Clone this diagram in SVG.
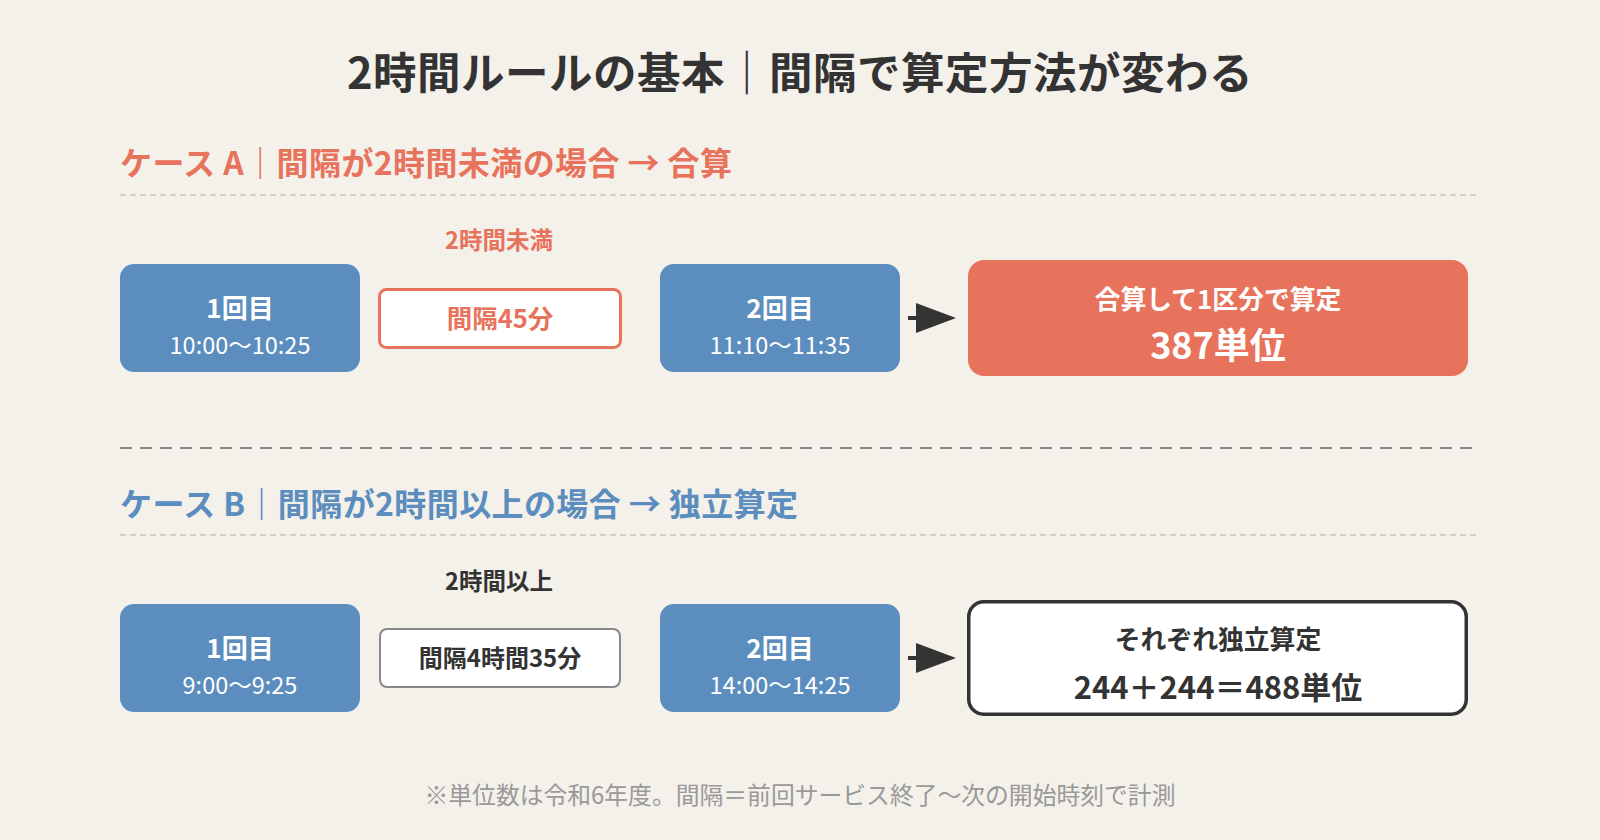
<svg xmlns="http://www.w3.org/2000/svg" width="1600" height="840" viewBox="0 0 1600 840">
<defs>
<style>
text{font-family:"Noto Sans CJK JP","Noto Sans",sans-serif;}
.title{font-size:43.5px;font-weight:700;fill:#333;text-anchor:middle;}
.hA{font-size:32px;font-weight:700;fill:#E8735C;letter-spacing:0.4px;}
.hB{font-size:32px;font-weight:700;fill:#5B8DBE;letter-spacing:0.4px;}
.visit{fill:#5B8DBE;}
.vt{font-size:26px;font-weight:700;fill:#fff;text-anchor:middle;}
.vs{font-size:23.5px;font-weight:400;fill:#fff;text-anchor:middle;}
.lbl{font-size:23.5px;font-weight:700;text-anchor:middle;}
.gapt{font-weight:700;text-anchor:middle;}
.rt{font-size:25.8px;font-weight:700;text-anchor:middle;}
.sep{stroke:#D3CFC9;stroke-width:2;stroke-dasharray:6 4;fill:none;}
.mid{stroke:#888;stroke-width:2;stroke-dasharray:12 8;fill:none;}
.conn{stroke:#333;stroke-width:4;fill:none;}
.foot{font-size:23.8px;fill:#999;text-anchor:middle;}
</style>
<marker id="ah" markerWidth="40" markerHeight="30" refX="0" refY="15" orient="auto" markerUnits="userSpaceOnUse">
<path d="M0,0 L40,15 L0,30 Z" fill="#333"/>
</marker>
</defs>
<rect width="1600" height="840" fill="#F4F0EA"/>

<text class="title" x="800" y="89" letter-spacing="0.5">2時間ルールの基本｜間隔で算定方法が変わる</text>

<g id="caseA-header">
<text class="hA" x="120" y="175">ケース A｜間隔が2時間未満の場合 → 合算</text>
<line class="sep" x1="120" y1="195" x2="1480" y2="195"/>
</g>

<g id="A-visit1">
<rect class="visit" x="120" y="264" width="240" height="108" rx="14"/>
<text class="vt" x="240" y="318">1回目</text>
<text class="vs" x="240" y="354">10:00〜10:25</text>
</g>
<g id="A-gap-label">
<text class="lbl" x="499" y="249" fill="#E8735C">2時間未満</text>
</g>
<g id="A-gap">
<rect x="379.5" y="289.5" width="241" height="58" rx="7" fill="#fff" stroke="#E8735C" stroke-width="3"/>
<text class="gapt" x="500" y="328" font-size="25.5" fill="#E8735C">間隔45分</text>
</g>
<g id="A-visit2">
<rect class="visit" x="660" y="264" width="240" height="108" rx="14"/>
<text class="vt" x="780" y="318">2回目</text>
<text class="vs" x="780" y="354">11:10〜11:35</text>
</g>
<g id="A-result">
<rect x="968" y="260" width="500" height="116" rx="16" fill="#E8735C"/>
<text class="rt" x="1218" y="309" fill="#fff">合算して1区分で算定</text>
<text x="1218" y="359" font-size="36" font-weight="700" fill="#fff" text-anchor="middle">387単位</text>
</g>

<line class="mid" x1="120" y1="448" x2="1472" y2="448"/>

<g id="caseB-header">
<text class="hB" x="120" y="516">ケース B｜間隔が2時間以上の場合 → 独立算定</text>
<line class="sep" x1="120" y1="535" x2="1480" y2="535"/>
</g>

<g id="B-visit1">
<rect class="visit" x="120" y="604" width="240" height="108" rx="14"/>
<text class="vt" x="240" y="658">1回目</text>
<text class="vs" x="240" y="694">9:00〜9:25</text>
</g>
<g id="B-gap-label">
<text class="lbl" x="499" y="590" fill="#333">2時間以上</text>
</g>
<g id="B-gap">
<rect x="380" y="629" width="240" height="58" rx="7" fill="#fff" stroke="#888" stroke-width="2"/>
<text class="gapt" x="500" y="667" font-size="24" fill="#333">間隔4時間35分</text>
</g>
<g id="B-visit2">
<rect class="visit" x="660" y="604" width="240" height="108" rx="14"/>
<text class="vt" x="780" y="658">2回目</text>
<text class="vs" x="780" y="694">14:00〜14:25</text>
</g>
<g id="B-result">
<rect x="968.75" y="601.75" width="497.5" height="112.5" rx="15" fill="#fff" stroke="#333" stroke-width="3.5"/>
<text class="rt" x="1218" y="649" fill="#333">それぞれ独立算定</text>
<text x="1218" y="699" font-size="31" font-weight="700" fill="#333" text-anchor="middle">244＋244＝488単位</text>
</g>

<g id="connectors">
<line class="conn" x1="908" y1="318" x2="916" y2="318" marker-end="url(#ah)"/>
<line class="conn" x1="908" y1="658" x2="916" y2="658" marker-end="url(#ah)"/>
</g>

<text class="foot" x="800" y="804">※単位数は令和6年度。間隔＝前回サービス終了〜次の開始時刻で計測</text>
</svg>
